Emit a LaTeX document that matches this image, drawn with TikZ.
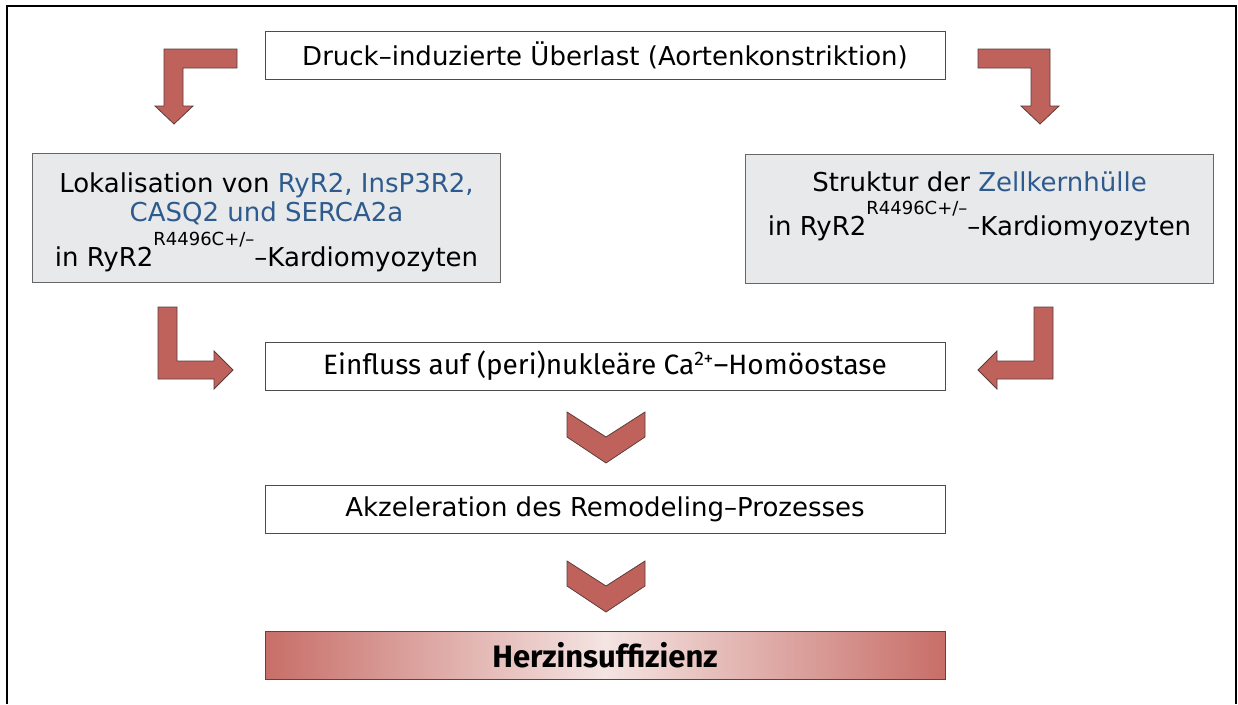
\documentclass[tikz,border=0pt]{standalone}
\usepackage{fontspec}
\setmainfont{DejaVu Sans}
\newfontfamily\narrowfont{Fira Sans}
\definecolor{arrowred}{HTML}{C0625C}
\definecolor{arrowedge}{HTML}{5A3C3A}
\definecolor{boxgrey}{HTML}{E8E9EB}
\definecolor{protblue}{HTML}{2E5B8E}
\definecolor{herzred}{HTML}{C86E68}
\definecolor{herzlight}{HTML}{F4E4E2}
\newcommand{\mutsup}{\smash{\raisebox{21pt}{\fontsize{18}{18}\selectfont R4496C+/–}}}
\begin{document}
\begin{tikzpicture}[x=1pt,y=-1pt,
  box/.style={draw=black!70,fill=white,line width=0.8pt,minimum width=680pt,minimum height=48pt,inner sep=0pt,font=\fontsize{26}{29}\selectfont},
  greybox/.style={draw=black!60,fill=boxgrey,line width=0.8pt,minimum width=468pt,minimum height=129pt,inner sep=0pt,align=center,font=\fontsize{26}{29}\selectfont},
  blockarrow/.style={fill=arrowred,draw=arrowedge,line width=0.8pt}]
\useasboundingbox (0,0) rectangle (1238,704);
\draw[line width=2pt] (7,704) -- (7,6) -- (1236,6) -- (1236,704);

% boxes
\node[box] (last) at (605,55) {Druck–induzierte Überlast (Aortenkonstriktion)};
\node[greybox] (lokal) at (266.5,217.5) {\rule{0pt}{30pt}Lokalisation von \textcolor{protblue}{RyR2, InsP3R2,}\\
  \textcolor{protblue}{CASQ2 und SERCA2a}\\[16pt]
  in RyR2\mutsup–Kardiomyozyten};
\node[greybox] (kern) at (979.5,219) {Struktur der \textcolor{protblue}{Zellkernhülle}\\[15pt]
  in RyR2\mutsup–Kardiomyozyten\rule[-30pt]{0pt}{0pt}};
\node[box,font=\narrowfont\fontsize{28}{29}\selectfont] (einfluss) at (605,366) {Einfluss auf (peri)nukleäre Ca\textsuperscript{2+}–Homöostase};
\node[box] (remod) at (605,509.5) {Akzeleration des Remodeling–Prozesses};
\node[box,left color=herzred,right color=herzred,middle color=herzlight,font=\narrowfont\bfseries\fontsize{31}{29}\selectfont] (herz) at (605,655.5) {Herzinsuffizienz};

% bent arrows
\draw[blockarrow] (237,49) -- (164,49) -- (164,106) -- (155,106) -- (174,124) -- (193,106) -- (183,106) -- (183,68) -- (237,68) -- cycle;
\draw[blockarrow] (978,49) -- (1050,49) -- (1050,106) -- (1059,106) -- (1040,124) -- (1021,106) -- (1031,106) -- (1031,68) -- (978,68) -- cycle;
\draw[blockarrow] (158,307) -- (177,307) -- (177,361) -- (214,361) -- (214,351) -- (233,370) -- (214,389) -- (214,379) -- (158,379) -- cycle;
\draw[blockarrow] (1053,307) -- (1034,307) -- (1034,361) -- (997,361) -- (997,351) -- (978,370) -- (997,389) -- (997,379) -- (1053,379) -- cycle;

% chevrons
\foreach \yy in {412,561}
  \draw[blockarrow] (567,\yy) -- (606,\yy+25) -- (645,\yy) -- (645,\yy+25) -- (606,\yy+51) -- (567,\yy+25) -- cycle;
\end{tikzpicture}
\end{document}
